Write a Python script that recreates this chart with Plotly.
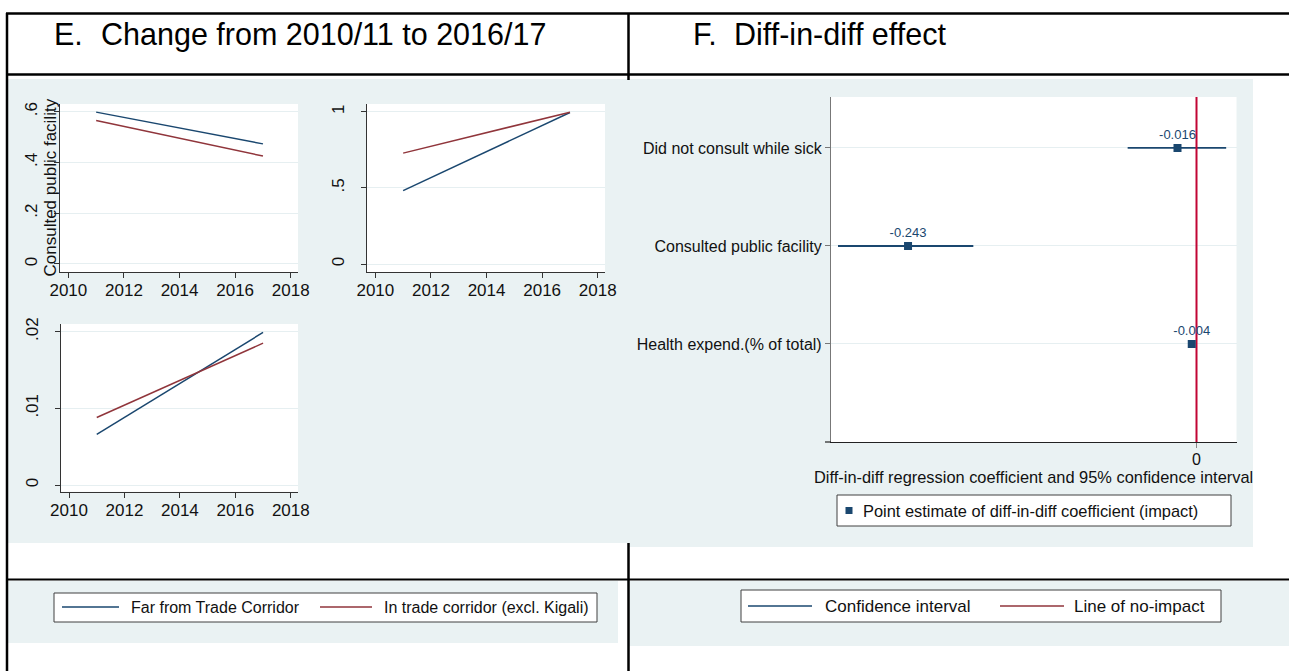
import plotly.graph_objects as go

# ---------------------------------------------------------------- data
years = [2011, 2017]

# Panel E: group means in the two survey rounds
public_far = [0.598, 0.473]          # Consulted public facility
public_corridor = [0.565, 0.425]
second_far = [0.482, 0.995]
second_corridor = [0.728, 0.997]
expend_far = [0.0066, 0.0199]        # Health expenditure share
expend_corridor = [0.0088, 0.0185]

year_ticks = [2010, 2012, 2014, 2016, 2018]
public_ticks = [0, 0.2, 0.4, 0.6]
public_ticktext = ["0", ".2", ".4", ".6"]
second_ticks = [0, 0.5, 1]
second_ticktext = ["0", ".5", "1"]
expend_ticks = [0, 0.01, 0.02]
expend_ticktext = ["0", ".01", ".02"]

# Panel F: diff-in-diff coefficients with 95% confidence intervals
outcomes = ["Health expend.(% of total)", "Consulted public facility",
            "Did not consult while sick"]
outcome_pos = [1, 2, 3]
coef = [-0.004, -0.243, -0.016]
ci_low = [-0.006, -0.302, -0.058]
ci_high = [-0.002, -0.188, 0.025]
no_impact = 0

# ---------------------------------------------------------------- style
W, H = 1289, 671
FONT = "Liberation Sans, Arial, Helvetica, sans-serif"
NAVY = "#1a476f"
MAROON = "#90353b"
CRANBERRY = "#c10534"
PANEL = "#eaf2f3"
GRID = "#e6eff1"
INK = "#111111"


def px(x):
    return x / W


def py(y):
    return 1 - y / H


def dom_x(a, b):
    return [px(a), px(b)]


def dom_y(top, bottom):
    return [py(bottom), py(top)]


fig = go.Figure()

# ---------------------------------------------------------------- panel E lines
for xa, ya, far, corr in [("x", "y", public_far, public_corridor),
                          ("x2", "y2", second_far, second_corridor),
                          ("x3", "y3", expend_far, expend_corridor)]:
    fig.add_trace(go.Scatter(x=years, y=far, mode="lines", xaxis=xa, yaxis=ya,
                             line=dict(color=NAVY, width=1.5), showlegend=False,
                             name="Far from Trade Corridor"))
    fig.add_trace(go.Scatter(x=years, y=corr, mode="lines", xaxis=xa, yaxis=ya,
                             line=dict(color=MAROON, width=1.5), showlegend=False,
                             name="In trade corridor (excl. Kigali)"))

# ---------------------------------------------------------------- panel F coefplot
ci_x, ci_y = [], []
for lo, hi, pos in zip(ci_low, ci_high, outcome_pos):
    ci_x += [lo, hi, None]
    ci_y += [pos, pos, None]
fig.add_trace(go.Scatter(x=ci_x, y=ci_y, mode="lines", xaxis="x4", yaxis="y4",
                         line=dict(color=NAVY, width=1.8), showlegend=False,
                         name="Confidence interval"))
fig.add_trace(go.Scatter(x=[no_impact, no_impact], y=[0, 3.52], mode="lines",
                         xaxis="x4", yaxis="y4",
                         line=dict(color=CRANBERRY, width=2), showlegend=False,
                         name="Line of no-impact"))
fig.add_trace(go.Scatter(x=coef, y=outcome_pos, mode="markers+text",
                         xaxis="x4", yaxis="y4",
                         marker=dict(symbol="square", size=8, color=NAVY),
                         text=[f"{c:.3f}" for c in coef],
                         textposition="top center",
                         textfont=dict(size=13, color=NAVY, family=FONT),
                         showlegend=False,
                         name="Point estimate of diff-in-diff coefficient (impact)"))

# ---------------------------------------------------------------- axes
tickfont = dict(size=17, color=INK, family=FONT)


def year_axis(domain, anchor):
    return dict(domain=domain, anchor=anchor, range=[2009.7, 2018.26],
                tickvals=year_ticks, showline=True, linecolor="#333333",
                linewidth=1, ticks="outside", ticklen=5, tickcolor="#333333",
                showgrid=False, zeroline=False, tickfont=tickfont,
                ticklabelstandoff=-2, automargin=False)


def value_axis(domain, anchor, rng, vals, text):
    return dict(domain=domain, anchor=anchor, range=rng, tickvals=vals,
                ticktext=text, showline=True, linecolor="#333333", linewidth=1,
                ticks="outside", ticklen=5, tickcolor="#333333",
                showgrid=True, gridcolor=GRID, gridwidth=1, zeroline=False,
                tickangle=-90, tickfont=tickfont, ticklabelstandoff=10,
                automargin=False)


fig.update_layout(
    xaxis=year_axis(dom_x(60, 298), "y"),
    yaxis=value_axis(dom_y(104, 272), "x", [-0.0316, 0.630],
                     public_ticks, public_ticktext),
    xaxis2=year_axis(dom_x(367, 605), "y2"),
    yaxis2=value_axis(dom_y(104, 272), "x2", [-0.0525, 1.0506],
                      second_ticks, second_ticktext),
    xaxis3=year_axis(dom_x(60.7, 298), "y3"),
    yaxis3=value_axis(dom_y(324, 491.7), "x3", [-0.00087, 0.0210],
                      expend_ticks, expend_ticktext),
    xaxis4=dict(domain=dom_x(831, 1236.5), anchor="y4",
                range=[-0.3079, 0.0337], tickvals=[no_impact], ticktext=["0"],
                showline=True, linecolor="#222222", linewidth=1.2,
                ticks="outside", ticklen=5, tickcolor="#888888",
                showgrid=False, zeroline=False, ticklabelstandoff=-2,
                automargin=False,
                tickfont=dict(size=16, color=INK, family=FONT)),
    yaxis4=dict(domain=dom_y(97, 442), anchor="x4", range=[0, 3.52],
                tickvals=outcome_pos, ticktext=outcomes,
                showline=True, linecolor="#777777", linewidth=1.2,
                ticks="outside", ticklen=5, tickcolor="#777777",
                showgrid=True, gridcolor=GRID, gridwidth=1, zeroline=False,
                automargin=False,
                tickfont=dict(size=16, color=INK, family=FONT)),
)

# ---------------------------------------------------------------- backgrounds and table rules
shapes = []


def rect(x0, y0, x1, y1, fill, line_color=None, line_width=0, layer="below"):
    shapes.append(dict(type="rect", xref="paper", yref="paper",
                       x0=px(x0), x1=px(x1), y0=py(y1), y1=py(y0),
                       fillcolor=fill, layer=layer,
                       line=dict(color=line_color or fill, width=line_width)))


def seg(x0, y0, x1, y1, color, width, layer="above"):
    shapes.append(dict(type="line", xref="paper", yref="paper",
                       x0=px(x0), x1=px(x1), y0=py(y0), y1=py(y1),
                       layer=layer, line=dict(color=color, width=width)))


# chart backgrounds
rect(8, 79, 628, 543, PANEL)
rect(628, 79, 1253, 547, PANEL)
rect(8, 581, 618, 643, PANEL)
rect(628, 581, 1289, 646, PANEL)
# plot regions
rect(60, 104, 298, 272, "white")
rect(367, 104, 605, 272, "white")
rect(60.7, 324, 298, 491.7, "white")
rect(831, 97, 1236.5, 442, "white")

# table rules
seg(6, 13.5, 1289, 13.5, "black", 2.5)
seg(6, 74.5, 1289, 74.5, "black", 2.5)
seg(7, 13, 7, 671, "black", 2.5)
seg(628.5, 13, 628.5, 80, "black", 2.5)
seg(628.5, 543, 628.5, 671, "black", 2.5)
seg(6, 579.5, 1289, 579.5, "black", 1.8)
# x axis of the coefficient plot runs a little past its y axis
seg(825, 442, 831, 442, "#222222", 1.2)

# legend boxes
rect(54, 593, 597, 622, "white", "#404040", 1, layer="above")
rect(741, 590, 1221, 622, "white", "#404040", 1, layer="above")
rect(837, 495, 1231, 526, "white", "#404040", 1, layer="above")
# legend keys
seg(62, 607, 119, 607, NAVY, 1.5)
seg(320, 607, 372, 607, MAROON, 1.5)
seg(748, 606, 812, 606, NAVY, 1.5)
seg(1000, 606, 1064, 606, MAROON, 1.5)
rect(845.5, 507, 852.5, 514, NAVY, NAVY, 0, layer="above")

fig.update_layout(shapes=shapes)

# ---------------------------------------------------------------- text
annotations = []


def label(text, x, y, size, xanchor="left", color="black", angle=0):
    annotations.append(dict(text=text, x=px(x), y=py(y), xref="paper",
                            yref="paper", xanchor=xanchor, yanchor="middle",
                            showarrow=False, textangle=angle,
                            font=dict(size=size, color=color, family=FONT)))


label("E.", 52, 34, 30.5)
label("Change from 2010/11 to 2016/17", 99, 34, 30.5)
label("F.", 691, 34, 30.5)
label("Diff-in-diff effect", 732, 34, 30.5)
label("Consulted public facility", 50, 187.5, 17, xanchor="center",
      color=INK, angle=-90)
label("Diff-in-diff regression coefficient and 95% confidence interval",
      1033, 477, 16.4, xanchor="center", color=INK)
label("Point estimate of diff-in-diff coefficient (impact)", 861, 510.5, 16.4,
      color=INK)
label("Far from Trade Corridor", 129, 607, 16, color=INK)
label("In trade corridor (excl. Kigali)", 382, 607, 16, color=INK)
label("Confidence interval", 823, 606, 17, color=INK)
label("Line of no-impact", 1072, 606, 17, color=INK)

fig.update_layout(
    annotations=annotations,
    width=W, height=H,
    margin=dict(l=0, r=0, t=0, b=0, pad=0, autoexpand=False),
    paper_bgcolor="white",
    plot_bgcolor="rgba(0,0,0,0)",
    showlegend=False,
    font=dict(family=FONT, color=INK),
)

# the page body gets no margin so the figure fills the window exactly
fig.write_html("out.html", config={"displayModeBar": False},
               post_script="document.body.style.margin='0';"
                           "document.body.style.overflow='hidden';")
